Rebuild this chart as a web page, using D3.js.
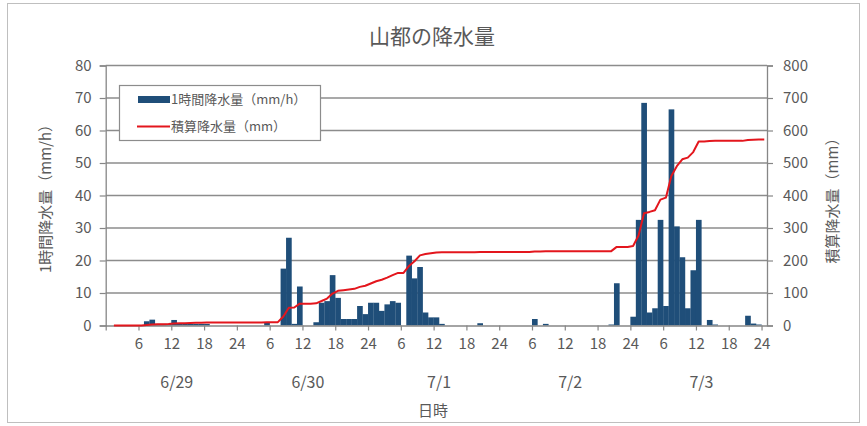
<!DOCTYPE html>
<html><head><meta charset="utf-8">
<script src="https://cdn.jsdelivr.net/npm/d3@7"></script>
<style>
html,body{margin:0;padding:0;background:#fff;}
text{font-family:"Noto Sans CJK JP","Noto Sans",sans-serif;fill:#595959;}
</style></head>
<body><svg id="c" width="867" height="426"></svg>
<script>
// ---- data ----
const title = "山都の降水量";
const leftTitle = "1時間降水量（mm/h）";
const rightTitle = "積算降水量（mm）";
const xTitle = "日時";
const seriesNames = ["1時間降水量（mm/h）", "積算降水量（mm）"];
const dayLabels = ["6/29", "6/30", "7/1", "7/2", "7/3"];
const hourTickLabels = ["6", "12", "18", "24"];
const leftTicks = [0, 10, 20, 30, 40, 50, 60, 70, 80];
const rightTicks = [0, 100, 200, 300, 400, 500, 600, 700, 800];
// hourly precipitation (mm/h), slots 1..120
const hourly = [
  0,0,0,0,0,0,
  1.3,1.8,0.5,0.5,0.5,1.7,
  0.5,0.5,0.5,0.5,0.5,0.5,
  0,0,0,0,0,0,
  0,0,0,0,1,0,
  0,17.5,27,0.5,12,0,
  0,1,7,7.5,15.5,8.5,
  2,2,2,6,3.5,7,
  7,4.5,6.5,7.5,7,0,
  21.5,14.5,18,4,2.5,2.5,
  0.5,0,0,0,0,0,
  0,0.7,0,0,0,0,
  0,0,0,0,0,2,
  0,0.5,0,0,0,0,
  0,0,0,0,0,0,
  0,0.3,13,0,0,2.7,
  32.5,68.5,4,5.3,32.5,6,
  66.5,30.5,21,5.3,17,32.5,
  0,1.7,0.3,0,0,0,
  0,0,3,0.6,0.3,0
];
// cumulative precipitation (mm), slots 1..120
const cumulative = [
  0,0,0,0,0,0,
  1.3,3.1,3.6,4.1,4.6,6.3,
  6.8,7.3,7.8,8.3,8.8,9.3,
  9.3,9.3,9.3,9.3,9.3,9.3,
  9.3,9.3,9.3,9.3,10.3,10.3,
  10.3,27.8,54.8,55.3,67.3,67.3,
  67.3,68.3,75.3,82.8,98.3,106.8,
  108.8,110.8,112.8,118.8,122.3,129.3,
  136.3,140.8,147.3,154.8,161.8,161.8,
  183.3,197.8,215.8,219.8,222.3,224.8,
  225.3,225.3,225.3,225.3,225.3,225.3,
  225.3,226,226,226,226,226,
  226,226,226,226,226,228,
  228,228.5,228.5,228.5,228.5,228.5,
  228.5,228.5,228.5,228.5,228.5,228.5,
  228.5,228.8,241.8,241.8,241.8,244.5,
  277,345.5,349.5,354.8,387.3,393.3,
  459.8,490.3,511.3,516.6,533.6,566.1,
  566.1,567.8,568.1,568.1,568.1,568.1,
  568.1,568.1,571.1,571.7,572,572
];

// ---- layout ----
const svg = d3.select("#c");
const L = 105.7, R = 767, T = 65.5, B = 325.5;
const gridColor = "#8c8c8c", axisColor = "#868686";
const barColor = "#1f4e79", lineColor = "#e3161d";

svg.append("rect").attr("x",7.5).attr("y",3.5).attr("width",852).attr("height",419)
  .attr("fill","none").attr("stroke","#bfbfbf").attr("stroke-width",1);

const slots = d3.range(0, 121);
const x = d3.scaleBand().domain(slots).range([L, R]).padding(0);
const bw = x.bandwidth();
const yL = d3.scaleLinear().domain([0, 80]).range([B, T]);
const yR = d3.scaleLinear().domain([0, 800]).range([B, T]);

// gridlines
svg.append("g").selectAll("line").data(leftTicks.slice(1)).join("line")
  .attr("x1", L).attr("x2", R).attr("y1", d => yL(d)).attr("y2", d => yL(d))
  .attr("stroke", gridColor).attr("stroke-width", 1.3);

// bars
const barData = hourly.map((v, i) => ({slot: i + 1, v}));
svg.append("g").selectAll("rect").data(barData.filter(d => d.v > 0)).join("rect")
  .attr("x", d => x(d.slot)).attr("width", bw + 0.2)
  .attr("y", d => yL(d.v)).attr("height", d => yL(0) - yL(d.v))
  .attr("fill", barColor);

// axes
const fmtTick = (i) => { const h = i % 24; return h === 0 ? "24" : String(h); };
const xAxis = d3.axisBottom(d3.scaleLinear().domain([0, 121]).range([L, R]))
  .tickValues(d3.range(0, 121, 6))
  .tickFormat(i => i === 0 ? "" : hourTickLabels[((i / 6) - 1) % 4])
  .tickSize(5).tickPadding(8);
const gx = svg.append("g").attr("transform", `translate(0,${B})`).call(xAxis);
gx.select(".domain").attr("stroke", axisColor).attr("stroke-width", 1.3).attr("d", `M${L},0.5H${R}`);
gx.selectAll(".tick line").attr("stroke", axisColor).attr("stroke-width", 1.2);
gx.selectAll(".tick text").attr("font-size", 15).style("fill", "#595959")
  .attr("font-family", '"Noto Sans CJK JP","Noto Sans",sans-serif');

const yAxisL = d3.axisLeft(yL).tickValues(leftTicks).tickSize(6).tickPadding(8);
const gyl = svg.append("g").attr("transform", `translate(${L},0)`).call(yAxisL);
gyl.select(".domain").attr("stroke", axisColor).attr("stroke-width", 1.3);
gyl.selectAll(".tick line").attr("stroke", axisColor).attr("stroke-width", 1.2);
gyl.selectAll(".tick text").attr("font-size", 15).style("fill", "#595959")
  .attr("font-family", '"Noto Sans CJK JP","Noto Sans",sans-serif');

const yAxisR = d3.axisRight(yR).tickValues(rightTicks).tickSize(6).tickPadding(10);
const gyr = svg.append("g").attr("transform", `translate(${R},0)`).call(yAxisR);
gyr.select(".domain").attr("stroke", axisColor).attr("stroke-width", 1.3);
gyr.selectAll(".tick line").attr("stroke", axisColor).attr("stroke-width", 1.2);
gyr.selectAll(".tick text").attr("font-size", 15).style("fill", "#595959")
  .attr("font-family", '"Noto Sans CJK JP","Noto Sans",sans-serif');

// line
const lineData = cumulative.map((v, i) => ({slot: i + 1, v}));
const line = d3.line().x(d => x(d.slot) + bw / 2).y(d => yR(d.v));
svg.append("path").datum(lineData).attr("d", line)
  .attr("fill", "none").attr("stroke", lineColor).attr("stroke-width", 2)
  .attr("stroke-linejoin", "round");

// day labels
svg.append("g").selectAll("text").data(dayLabels).join("text")
  .attr("x", (d, i) => x(1 + i * 24) + 12 * bw)
  .attr("y", 388).attr("text-anchor", "middle").attr("font-size", 16).text(d => d);

// titles
svg.append("text").attr("x", 432).attr("y", 44).attr("text-anchor", "middle")
  .attr("font-size", 21).text(title);
svg.append("text").attr("x", 433).attr("y", 416).attr("text-anchor", "middle")
  .attr("font-size", 15).text(xTitle);
svg.append("text").attr("transform", "translate(51,195) rotate(-90)")
  .attr("text-anchor", "middle").attr("font-size", 15).text(leftTitle);
svg.append("text").attr("transform", "translate(838,197) rotate(-90)")
  .attr("text-anchor", "middle").attr("font-size", 15).text(rightTitle);

// legend
const lg = svg.append("g");
lg.append("rect").attr("x", 119.5).attr("y", 85.5).attr("width", 201).attr("height", 55)
  .attr("fill", "#fff").attr("stroke", "#8c8c8c").attr("stroke-width", 1.2);
lg.append("rect").attr("x", 138).attr("y", 96).attr("width", 32).attr("height", 7).attr("fill", barColor);
lg.append("line").attr("x1", 137).attr("x2", 170).attr("y1", 126.5).attr("y2", 126.5)
  .attr("stroke", lineColor).attr("stroke-width", 2);
lg.append("text").attr("x", 171).attr("y", 104).attr("font-size", 13).text(seriesNames[0]);
lg.append("text").attr("x", 171).attr("y", 131).attr("font-size", 13).text(seriesNames[1]);
</script></body></html>
